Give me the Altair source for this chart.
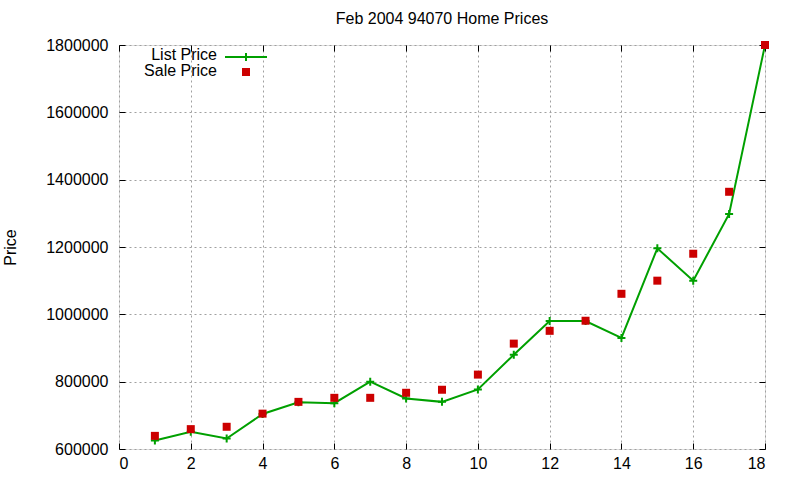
import altair as alt
import pandas as pd

listing = list(range(1, 19))
list_price = [625000, 651000, 631000, 704000, 739000, 736000, 800000, 750000, 740000,
              777000, 880000, 980000, 980000, 930000, 1196000, 1100000, 1298000, 1800000]
sale_price = [639000, 659000, 666000, 705000, 740000, 752000, 752000, 767000, 776000,
              821000, 913000, 951000, 981000, 1061000, 1100000, 1180000, 1364000, 1800000]
x_ticks = list(range(0, 19, 2))
y_ticks = list(range(600000, 1800001, 200000))
legend_labels = ["List Price", "Sale Price"]
title_text = "Feb 2004 94070 Home Prices"

df = pd.DataFrame({"n": listing, "list": list_price, "sale": sale_price})

W, H = 646, 404
FONT = "Liberation Sans"
GREEN = "#00a000"
RED = "#cc0000"
PLUS = "M-1,0L1,0M0,-1L0,1"

xs = alt.Scale(domain=[0, 18], nice=False)
ys = alt.Scale(domain=[600000, 1800000], nice=False, zero=False)

grid_axis = dict(grid=True, gridColor="#a0a0a0", gridDash=[2, 3], gridWidth=1,
                 domain=False, ticks=False, labelFont=FONT, labelFontSize=16,
                 labelColor="black")
tick_axis = dict(grid=False, domain=False, labels=False, ticks=True, tickSize=6,
                 tickColor="black", tickWidth=1, title=None)

line = alt.Chart(df).mark_line(
    color=GREEN, strokeWidth=2,
    point=alt.OverlayMarkDef(shape=PLUS, filled=False, stroke=GREEN, strokeWidth=2, size=64),
).encode(
    x=alt.X("n:Q", scale=xs, axis=alt.Axis(values=x_ticks, orient="bottom", title=None,
                                           labelPadding=6, **grid_axis)),
    y=alt.Y("list:Q", scale=ys, axis=alt.Axis(values=y_ticks, orient="left", format="d",
                                              labelPadding=11, title="Price",
                                              titleFont=FONT, titleFontSize=16,
                                              titleFontWeight="normal", titleColor="black",
                                              titleAngle=270, titleAlign="center",
                                              titleBaseline="middle", titleX=-109,
                                              titleY=H / 2, **grid_axis)),
)

sale = alt.Chart(df).mark_point(shape="square", filled=True, color=RED, size=64, opacity=1).encode(
    x=alt.X("n:Q", scale=xs, axis=alt.Axis(values=x_ticks, orient="top", offset=-H, **tick_axis)),
    y=alt.Y("sale:Q", scale=ys, axis=alt.Axis(values=y_ticks, orient="right", offset=-W, **tick_axis)),
)

mirror = alt.Chart(df).mark_point(opacity=0).encode(
    x=alt.X("n:Q", scale=xs, axis=alt.Axis(values=x_ticks, orient="bottom", offset=-H, **tick_axis)),
    y=alt.Y("sale:Q", scale=ys, axis=alt.Axis(values=y_ticks, orient="left", offset=-W, **tick_axis)),
)

leg_df = pd.DataFrame({"label": legend_labels, "row": [0, 1]})
leg_text = alt.Chart(leg_df).mark_text(
    align="right", baseline="middle", font=FONT, fontSize=16, color="black", x=98
).encode(
    text="label:N",
    y=alt.Y("row:Q", scale=alt.Scale(domain=[0, 1], range=[10, 26]), axis=None),
)
leg_line = alt.Chart(leg_df.iloc[[0]]).mark_rule(color=GREEN, strokeWidth=2).encode(
    x=alt.value(106), x2=alt.value(148), y=alt.value(12)
)
leg_plus = alt.Chart(leg_df.iloc[[0]]).mark_point(
    shape=PLUS, filled=False, color=GREEN, strokeWidth=2, size=64, opacity=1
).encode(x=alt.value(127), y=alt.value(12))
leg_sq = alt.Chart(leg_df.iloc[[1]]).mark_point(
    shape="square", filled=True, color=RED, size=64, opacity=1
).encode(x=alt.value(127), y=alt.value(27))

title = alt.Chart(pd.DataFrame({"t": [title_text]})).mark_text(
    align="center", baseline="alphabetic", font=FONT, fontSize=16, color="black"
).encode(text="t:N", x=alt.value(W / 2), y=alt.value(-21))

chart = alt.layer(line, sale, mirror, leg_text, leg_line, leg_plus, leg_sq, title).resolve_scale(
    y="independent"
).resolve_axis(x="independent", y="independent").properties(
    width=W, height=H,
    autosize=alt.AutoSizeParams(type="none"),
    padding={"left": 119, "top": 45, "right": 35, "bottom": 31},
).configure_view(stroke="black", strokeWidth=1.5).configure(background="white")

chart.save("out.html", embed_options={"renderer": "svg", "actions": False})
